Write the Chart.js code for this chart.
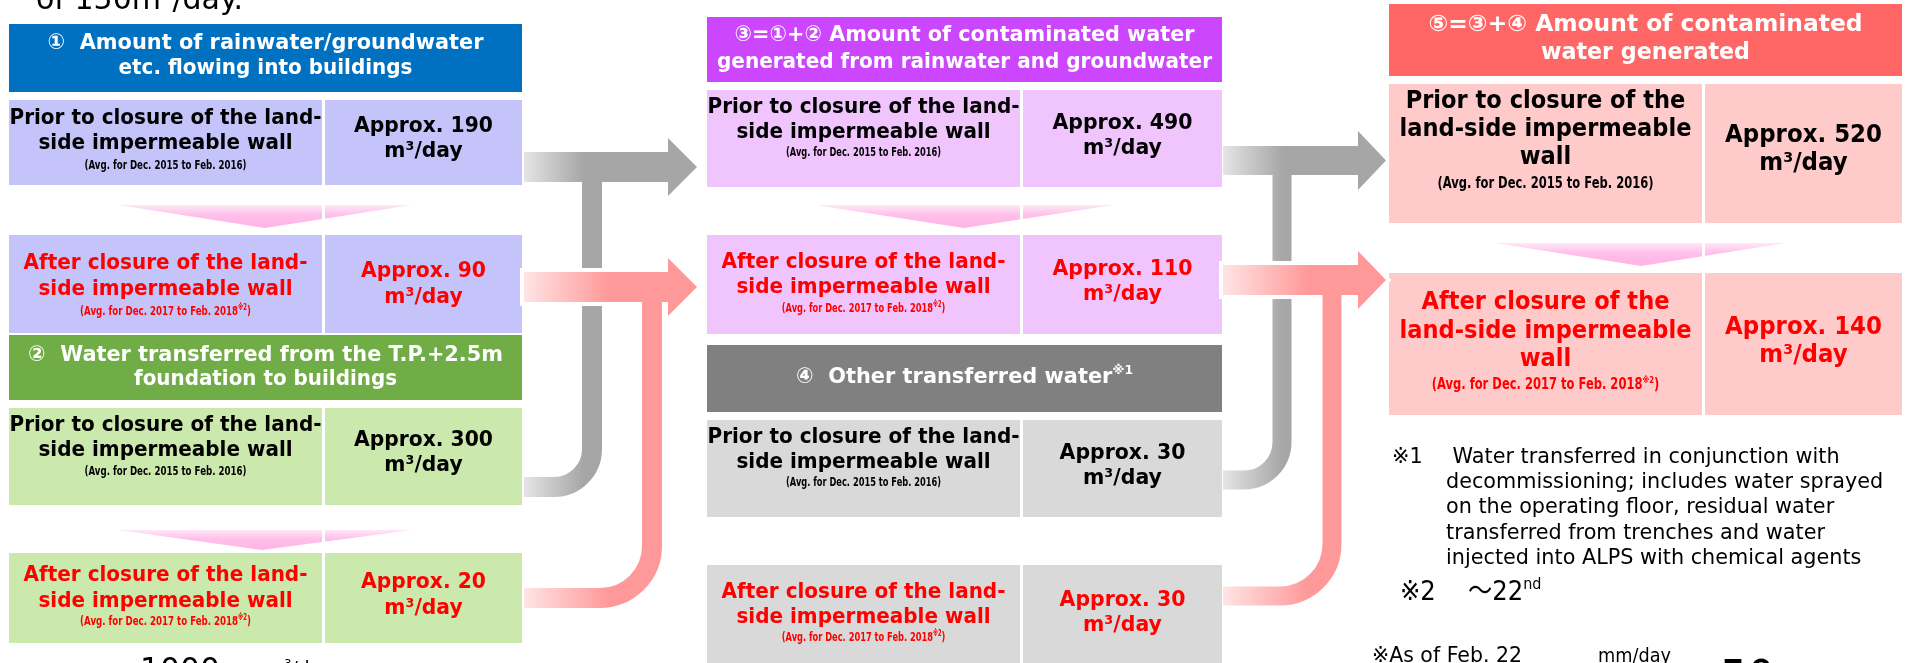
<!DOCTYPE html>
<html>
<head>
<meta charset="utf-8">
<title>Amount of contaminated water generated</title>
<script src="https://cdn.jsdelivr.net/npm/chart.js@4.4.1/dist/chart.umd.min.js"></script>
<style>
  html, body { margin: 0; padding: 0; background: #fff; overflow: hidden; }
  #chart { display: block; }
</style>
</head>
<body>
<canvas id="chart" width="1913" height="663"></canvas>
<script>
/* =============================================
   DATA
   ============================================= */
const sectionTitles = [
  ['①  Amount of rainwater/groundwater', 'etc. flowing into buildings'],
  ['②  Water transferred from the T.P.+2.5m', 'foundation to buildings'],
  ['③=①+② Amount of contaminated water', 'generated from rainwater and groundwater'],
  ['④  Other transferred water^{※1}'],
  ['⑤=③+④ Amount of contaminated', 'water generated']
];
const priorValues = [190, 300, 490, 30, 520];   // m3/day, Dec 2015 - Feb 2016
const afterValues = [90, 20, 110, 30, 140];     // m3/day, Dec 2017 - Feb 2018
const unitLabel = 'm³/day';

const priorLabel     = ['Prior to closure of the land-', 'side impermeable wall'];
const afterLabel     = ['After closure of the land-', 'side impermeable wall'];
const priorLabelWide = ['Prior to closure of the', 'land-side impermeable', 'wall'];
const afterLabelWide = ['After closure of the', 'land-side impermeable', 'wall'];
const priorPeriod = '(Avg. for Dec. 2015 to Feb. 2016)';
const afterPeriod = '(Avg. for Dec. 2017 to Feb. 2018^{※2})';

const footnote1 = [
  ' Water transferred in conjunction with',
  'decommissioning; includes water sprayed',
  'on the operating floor, residual water',
  'transferred from trenches and water',
  'injected into ALPS with chemical agents'
];
const footnote2 = '～22^{nd}';

/* =============================================
   LAYOUT (page coordinates, px)
   ============================================= */
const W = 1913, H = 663;
const SANS = "'DejaVu Sans', 'Noto Sans CJK JP', sans-serif";

const columns = [
  { x0: 9,    x1: 522,  split: 322,  head: 22, body: 22, bodyRef: 'Prior to closure of the land-', bodyW: 312, val: 21, valW: 139, small: 13, smallW: 162 },
  { x0: 707,  x1: 1222, split: 1020, head: 22, body: 22, bodyRef: 'Prior to closure of the land-', bodyW: 312, val: 22, valW: 140, small: 13, smallW: 155 },
  { x0: 1389, x1: 1902, split: 1702, head: 23, body: 24, bodyRef: 'land-side impermeable',         bodyW: 292, val: 25, valW: 157, small: 15, smallW: 216 }
];

// one entry per section, same order as the data arrays
const sections = [
  { col: 0, headCol: '#0070c0', cellCol: '#c4c4fa', headY: [24, 92], headLines: [43, 68], headW: [436, 294],
    prior: { y: [100, 185], ly: 118, lg: 25, sy: 166, vy: 127 },
    after: { y: [235, 333], ly: 263, lg: 26, sy: 312, vy: 272 },
    chev: [205, 228, 118, 412, 265] },
  { col: 0, headCol: '#70ad47', cellCol: '#cbe8ad', headY: [335, 400], headLines: [355, 379], headW: [475, 263],
    prior: { y: [408, 505], ly: 425, lg: 25, sy: 472, vy: 441 },
    after: { y: [553, 643], ly: 575, lg: 26, sy: 622, vy: 583 },
    chev: [530, 550, 118, 412, 262] },
  { col: 1, headCol: '#cc46fd', cellCol: '#f0c5fd', headY: [17, 82], headLines: [35, 62], headW: [460, 495],
    prior: { y: [90, 187], ly: 107, lg: 25, sy: 153, vy: 123 },
    after: { y: [235, 334], ly: 262, lg: 25, sy: 309, vy: 269 },
    chev: [205, 228, 815, 1114, 964] },
  { col: 1, headCol: '#808080', cellCol: '#d9d9d9', headY: [345, 412], headLines: [377], headW: [337],
    prior: { y: [420, 517], ly: 437, lg: 25, sy: 483, vy: 453 },
    after: { y: [565, 700], ly: 592, lg: 25, sy: 638, vy: 600 },
    chev: null },
  { col: 2, headCol: '#ff6666', cellCol: '#ffcaca', headY: [4, 76], headLines: [25, 53], headW: [434, 209],
    prior: { y: [84, 223], ly: 102, lg: 28, sy: 184, vy: 135 },
    after: { y: [273, 415], ly: 303, lg: 28.5, sy: 385, vy: 327 },
    chev: [243, 266, 1495, 1786, 1641] }
];

// T-shaped flow arrows between columns
const flows = [
  { kind: 'gray', x0: 524,  hx: 668,  tip: 697,  shaft: [152, 182], head: [138, 196], stem: 592,  sw: 20, hy: 487, r: 38, fade: 60 },
  { kind: 'pink', x0: 524,  hx: 668,  tip: 697,  shaft: [272, 302], head: [258, 316], stem: 652,  sw: 20, hy: 598, r: 52, fade: 85 },
  { kind: 'gray', x0: 1223, hx: 1358, tip: 1386, shaft: [146, 175], head: [131, 190], stem: 1282, sw: 19, hy: 480, r: 38, fade: 60 },
  { kind: 'pink', x0: 1223, hx: 1358, tip: 1386, shaft: [265, 295], head: [251, 309], stem: 1332, sw: 19, hy: 596, r: 52, fade: 85 }
];

/* =============================================
   TEXT HELPERS
   ============================================= */
function parts(str) {
  const out = [];
  const re = /\^\{([^}]*)\}/g;
  let last = 0, m;
  while ((m = re.exec(str))) {
    if (m.index > last) out.push({ t: str.slice(last, m.index), sup: false });
    out.push({ t: m[1], sup: true });
    last = re.lastIndex;
  }
  if (last < str.length) out.push({ t: str.slice(last), sup: false });
  return out;
}

function fontOf(size, weight, sup) {
  return `${weight} ${sup ? Math.round(size * 0.6) : size}px ${SANS}`;
}

function measureLine(ctx, str, size, weight) {
  let w = 0;
  parts(str).forEach(p => { ctx.font = fontOf(size, weight, p.sup); w += ctx.measureText(p.t).width; });
  return w;
}

function drawLine(ctx, str, x, y, size, weight, color, squeeze, align) {
  const total = measureLine(ctx, str, size, weight);
  ctx.save();
  ctx.translate(x, y);
  ctx.scale(squeeze, 1);
  ctx.fillStyle = color;
  ctx.textBaseline = 'middle';
  ctx.textAlign = 'left';
  let cx = align === 'left' ? 0 : -total / 2;
  parts(str).forEach(p => {
    ctx.font = fontOf(size, weight, p.sup);
    ctx.fillText(p.t, cx, p.sup ? -size * 0.3 : 0);
    cx += ctx.measureText(p.t).width;
  });
  ctx.restore();
}

function squeezeFor(ctx, ref, size, weight, target) {
  return target / measureLine(ctx, ref, size, weight);
}

/* =============================================
   DIAGRAM PLUGIN
   ============================================= */
const diagramPlugin = {
  id: 'diagram',
  afterDraw(chart) {
    const ctx = chart.ctx;
    const sx = chart.scales.x, sy = chart.scales.y;
    const X = v => sx.getPixelForValue(v);
    const Y = v => sy.getPixelForValue(v);
    const rect = (x0, y0, x1, y1, col) => { ctx.fillStyle = col; ctx.fillRect(X(x0), Y(y0), X(x1) - X(x0), Y(y1) - Y(y0)); };

    ctx.save();

    // ---- boxes ----
    sections.forEach((s, i) => {
      const c = columns[s.col];
      rect(c.x0, s.headY[0], c.x1, s.headY[1], s.headCol);
      sectionTitles[i].forEach((line, k) => {
        const hs = squeezeFor(ctx, line, c.head, 'bold', s.headW[k]);
        drawLine(ctx, line, X((c.x0 + c.x1) / 2), Y(s.headLines[k]), c.head, 'bold', '#fff', hs);
      });

      const bodySq  = squeezeFor(ctx, c.bodyRef, c.body, 'bold', c.bodyW);
      const valSq   = squeezeFor(ctx, 'Approx. 190', c.val, 'bold', c.valW);
      const smallSq = squeezeFor(ctx, priorPeriod, c.small, 'bold', c.smallW);
      const lx = (c.x0 + c.split) / 2, vx = (c.split + 3 + c.x1) / 2;

      [['prior', priorValues[i], '#000', s.col === 2 ? priorLabelWide : priorLabel, priorPeriod],
       ['after', afterValues[i], '#ff0000', s.col === 2 ? afterLabelWide : afterLabel, afterPeriod]].forEach(([key, v, col, label, period]) => {
        const r = s[key];
        rect(c.x0, r.y[0], c.split, r.y[1], s.cellCol);
        rect(c.split + 3, r.y[0], c.x1, r.y[1], s.cellCol);
        label.forEach((line, k) => drawLine(ctx, line, X(lx), Y(r.ly + k * r.lg), c.body, 'bold', col, bodySq));
        drawLine(ctx, period, X(lx), Y(r.sy), c.small, 'bold', col, smallSq);
        drawLine(ctx, 'Approx. ' + v, X(vx), Y(r.vy), c.val, 'bold', col, valSq);
        drawLine(ctx, unitLabel, X(vx), Y(r.vy + r.lg), c.val, 'bold', col, valSq);
      });

      if (s.chev) {
        const [t, b, a0, a1, tip] = s.chev;
        const g = ctx.createLinearGradient(0, Y(t), 0, Y(b));
        g.addColorStop(0, '#ffe8f7');
        g.addColorStop(0.45, '#ffbfea');
        g.addColorStop(1, '#ffb3e6');
        ctx.fillStyle = g;
        ctx.beginPath();
        ctx.moveTo(X(a0), Y(t)); ctx.lineTo(X(a1), Y(t)); ctx.lineTo(X(tip), Y(b)); ctx.closePath();
        ctx.fill();
        rect(c.split, t - 1, c.split + 3, b + 1, '#fff');
      }
    });

    // ---- flow arrows ----
    const grad = f => {
      const g = ctx.createLinearGradient(X(f.x0), 0, X(f.x0 + f.fade), 0);
      if (f.kind === 'gray') { g.addColorStop(0, '#e6e4e6'); g.addColorStop(1, '#a6a6a6'); }
      else { g.addColorStop(0, '#ffe4e4'); g.addColorStop(1, '#ff9999'); }
      return g;
    };
    const arrowPath = f => {
      ctx.beginPath();
      ctx.moveTo(X(f.x0), Y(f.shaft[0]));
      ctx.lineTo(X(f.hx), Y(f.shaft[0]));
      ctx.lineTo(X(f.hx), Y(f.head[0]));
      ctx.lineTo(X(f.tip), Y((f.head[0] + f.head[1]) / 2));
      ctx.lineTo(X(f.hx), Y(f.head[1]));
      ctx.lineTo(X(f.hx), Y(f.shaft[1]));
      ctx.lineTo(X(f.x0), Y(f.shaft[1]));
      ctx.closePath();
    };
    const pipe = f => {
      ctx.strokeStyle = grad(f);
      ctx.lineWidth = f.sw;
      ctx.lineCap = 'butt';
      ctx.beginPath();
      ctx.moveTo(X(f.x0), Y(f.hy));
      ctx.lineTo(X(f.stem - f.r), Y(f.hy));
      ctx.arcTo(X(f.stem), Y(f.hy), X(f.stem), Y(f.hy - f.r), f.r);
      ctx.lineTo(X(f.stem), Y((f.shaft[0] + f.shaft[1]) / 2));
      ctx.stroke();
    };

    flows.filter(f => f.kind === 'gray').forEach(f => {
      pipe(f);
      arrowPath(f); ctx.fillStyle = grad(f); ctx.fill();
    });
    flows.filter(f => f.kind === 'pink').forEach(f => {
      arrowPath(f); ctx.strokeStyle = '#fff'; ctx.lineWidth = 8; ctx.lineJoin = 'miter'; ctx.stroke();
      pipe(f);
      arrowPath(f); ctx.fillStyle = grad(f); ctx.fill();
    });

    // ---- notes ----
    const noteSq = squeezeFor(ctx, footnote1[0].trim(), 22, 'normal', 387);
    drawLine(ctx, '※1', X(1392), Y(457), 22, 'normal', '#000', noteSq, 'left');
    footnote1.forEach((line, k) => drawLine(ctx, line, X(1446), Y(457 + k * 25.3), 22, 'normal', '#000', noteSq, 'left'));
    drawLine(ctx, '※2', X(1400), Y(593), 27, 'normal', '#000', 0.9, 'left');
    drawLine(ctx, footnote2, X(1468), Y(593), 27, 'normal', '#000', 0.9, 'left');

    // partly visible text at the page edges
    const edge = (str, x, base, size, target) => {
      const sq = squeezeFor(ctx, str, size, 'normal', target);
      ctx.save();
      ctx.translate(X(x), Y(base));
      ctx.scale(sq, 1);
      ctx.fillStyle = '#000';
      ctx.textBaseline = 'alphabetic';
      let cx = 0;
      parts(str).forEach(p => {
        ctx.font = fontOf(size, 'normal', p.sup);
        ctx.fillText(p.t, cx, p.sup ? -size * 0.4 : 0);
        cx += ctx.measureText(p.t).width;
      });
      ctx.restore();
    };
    edge('of 150m^{3}/day.', 36, 9, 30, 207);
    edge('1000', 140, 680, 32, 80);
    edge('m^{3}/day', 266, 674, 18, 66);
    drawLine(ctx, '※As of Feb. 22', X(1372), Y(657), 21, 'normal', '#000', squeezeFor(ctx, '※As of Feb. 22', 21, 'normal', 150), 'left');
    drawLine(ctx, 'mm/day', X(1598), Y(657), 20, 'normal', '#000', squeezeFor(ctx, 'mm/day', 20, 'normal', 73), 'left');
    edge('50', 1720, 694, 48, 55);
    edge('○', 1790, 694, 48, 40);

    ctx.restore();
  }
};

/* =============================================
   CHART
   ============================================= */
new Chart(document.getElementById('chart').getContext('2d'), {
  type: 'scatter',
  data: { datasets: [{ data: [], pointRadius: 0 }] },
  options: {
    responsive: false,
    animation: false,
    events: [],
    layout: { padding: 0 },
    plugins: { legend: { display: false }, tooltip: { enabled: false } },
    scales: {
      x: { type: 'linear', min: 0, max: W, display: false },
      y: { type: 'linear', min: 0, max: H, reverse: true, display: false }
    }
  },
  plugins: [diagramPlugin]
});
</script>
</body>
</html>
